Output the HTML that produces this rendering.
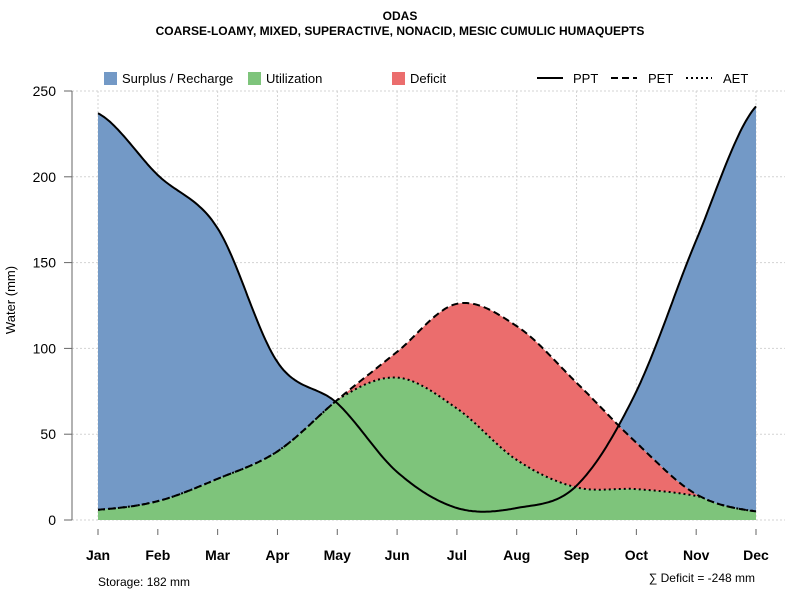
<!DOCTYPE html>
<html><head><meta charset="utf-8"><style>
body{margin:0;background:#fff}
svg{font-family:"Liberation Sans",sans-serif}
</style></head><body>
<svg id="c" width="800" height="600">
<text x="400" y="20" text-anchor="middle" font-size="12" font-weight="bold">ODAS</text>
<text x="400" y="35" text-anchor="middle" font-size="12" font-weight="bold">COARSE-LOAMY, MIXED, SUPERACTIVE, NONACID, MESIC CUMULIC HUMAQUEPTS</text>
<g id="grid"></g><g id="areas"></g><g id="lines"></g><g id="axes"></g>
<g font-size="13">
<rect x="104" y="72" width="13" height="13" fill="#7399c6"/><text x="122" y="83">Surplus / Recharge</text>
<rect x="248" y="72" width="13" height="13" fill="#7ec47b"/><text x="266" y="83">Utilization</text>
<rect x="392" y="72" width="13" height="13" fill="#eb6d6d"/><text x="410" y="83">Deficit</text>
<line x1="537" y1="78" x2="563" y2="78" stroke="#000" stroke-width="2"/><text x="573" y="83">PPT</text>
<line x1="611" y1="78" x2="637" y2="78" stroke="#000" stroke-width="2" stroke-dasharray="7,4"/><text x="648" y="83">PET</text>
<line x1="686" y1="78" x2="712" y2="78" stroke="#000" stroke-width="2" stroke-dasharray="2,3"/><text x="723" y="83">AET</text>
</g>
<text x="20" y="305" font-size="13" text-anchor="middle" transform="rotate(-90 15 305)">Water (mm)</text>
<text x="98" y="586" font-size="12">Storage: 182 mm</text>
<text x="755" y="582" font-size="12" text-anchor="end">∑ Deficit = -248 mm</text>
</svg>
<script>
const months=["Jan","Feb","Mar","Apr","May","Jun","Jul","Aug","Sep","Oct","Nov","Dec"];
const ppt=[237,201,170,92,68,28,7,7,20,75,163,241];
const pet=[6,11,24,40,70,98,126,113,80,45,15,5];
const aet=[6,11,24,40,70,83,65,35,19,18,14,5];
const yTicks=[0,50,100,150,200,250];
const NS="http://www.w3.org/2000/svg";
const X=i=>98+i*(756-98)/11, Y=v=>520-v*429/250;
function mk(t,a,p){const e=document.createElementNS(NS,t);for(const k in a)e.setAttribute(k,a[k]);p.appendChild(e);return e;}
function interp(arr,t){const n=arr.length,i=Math.min(Math.floor(t),n-2),u=t-i;
const p0=arr[Math.max(i-1,0)],p1=arr[i],p2=arr[i+1],p3=arr[Math.min(i+2,n-1)];
const m1=(p2-p0)/2,m2=(p3-p1)/2,u2=u*u,u3=u2*u;
return (2*u3-3*u2+1)*p1+(u3-2*u2+u)*m1+(-2*u3+3*u2)*p2+(u3-u2)*m2;}
const N=330,ts=[];for(let k=0;k<=N;k++)ts.push(11*k/N);
const P=ts.map(t=>interp(ppt,t)),E=ts.map(t=>interp(pet,t)),A=ts.map(t=>Math.min(interp(aet,t),interp(pet,t)));
const pts=(vals)=>ts.map((t,k)=>X(t).toFixed(1)+","+Y(vals[k]).toFixed(1));
const g=document.getElementById("grid"),ar=document.getElementById("areas"),ln=document.getElementById("lines"),ax=document.getElementById("axes");
months.forEach((m,i)=>{const l=mk("line",{x1:X(i),x2:X(i),y1:91,y2:520,stroke:"#d3d3d3","stroke-dasharray":"2,2"},g);

const tk=mk("line",{x1:X(i),x2:X(i),y1:529,y2:535,stroke:"#666"},ax);

const tx=mk("text",{x:X(i),y:560,"text-anchor":"middle","font-size":"14","font-weight":"bold"},ax);tx.textContent=m;
});
yTicks.forEach(v=>{const l=mk("line",{x1:72,x2:785,y1:Y(v),y2:Y(v),stroke:"#d3d3d3","stroke-dasharray":"2,2"},g);

const tk=mk("line",{x1:64,x2:72,y1:Y(v),y2:Y(v),stroke:"#666"},ax);

const tx=mk("text",{x:56,y:Y(v)+5,"text-anchor":"end","font-size":"14"},ax);tx.textContent=v;
});
const yl=mk("line",{x1:72,x2:72,y1:91,y2:520,stroke:"#666"},ax);
const z=ts.map(()=>0);
const green=mk("polygon",{points:pts(A).join(" ")+" "+X(11)+","+Y(0)+" "+X(0)+","+Y(0),fill:"#7ec47b"},ar);

const red=mk("polygon",{points:pts(E).join(" ")+" "+pts(A).reverse().join(" "),fill:"#eb6d6d"},ar);

const mx=P.map((p,k)=>Math.max(p,E[k]));
const blue=mk("polygon",{points:pts(mx).join(" ")+" "+pts(E).reverse().join(" "),fill:"#7399c6"},ar);

const l1=mk("polyline",{points:pts(P).join(" "),fill:"none",stroke:"#000","stroke-width":2},ln);

const l2=mk("polyline",{points:pts(E).join(" "),fill:"none",stroke:"#000","stroke-width":2,"stroke-dasharray":"7,4"},ln);

const l3=mk("polyline",{points:pts(A).join(" "),fill:"none",stroke:"#000","stroke-width":2,"stroke-dasharray":"2,3"},ln);

</script>
</body></html>
